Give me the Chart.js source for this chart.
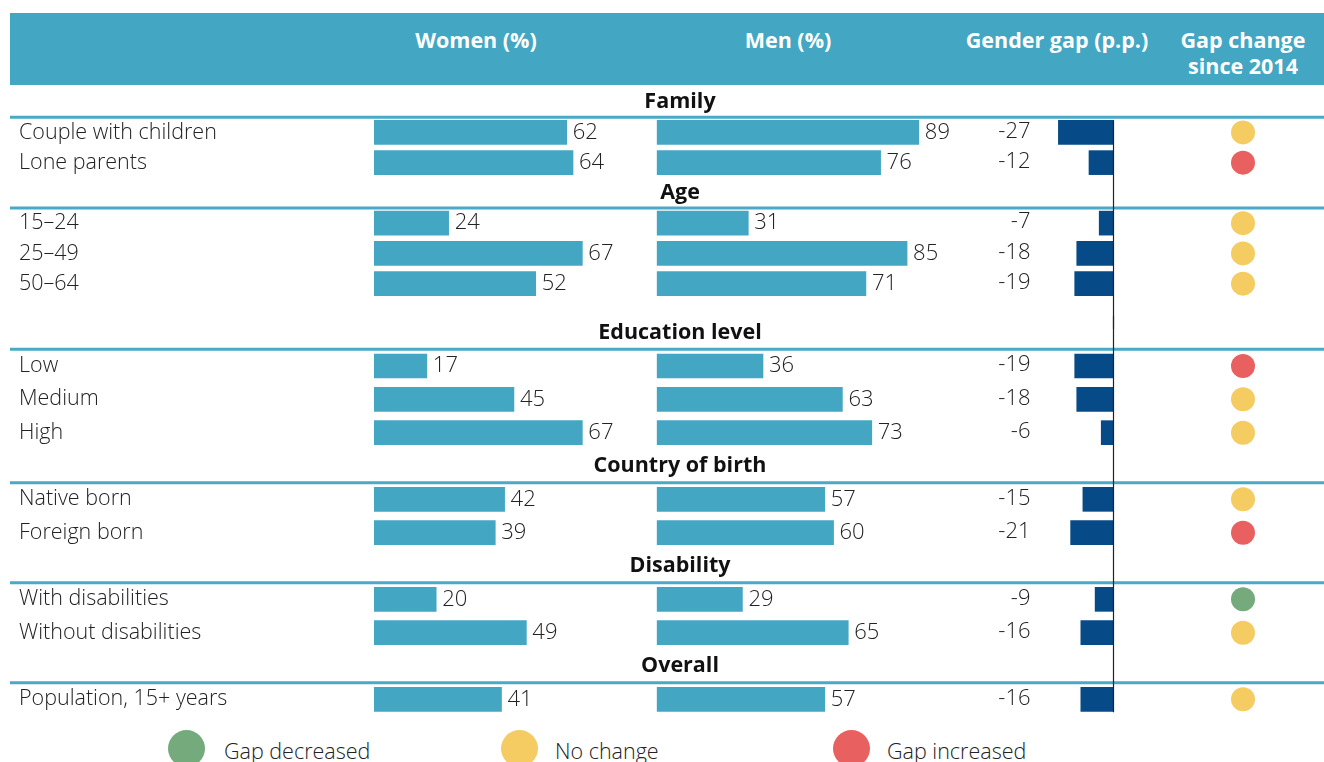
<!DOCTYPE html>
<html>
<head>
<meta charset="utf-8">
<script src="https://cdn.jsdelivr.net/npm/chart.js@4/dist/chart.umd.min.js"></script>
<style>
  body { margin: 0; background: #fff; font-family: "Open Sans", sans-serif; }
  #page { position: relative; width: 1324px; height: 762px; overflow: hidden; }
  .band { position: absolute; left: 10px; top: 13px; width: 1314px; height: 72px; background: #43a7c4; }
  .colhead { position: absolute; color: #fff; font-weight: 700; font-size: 21.5px; line-height: 26px; text-align: center; white-space: nowrap; transform: translateX(-50%); }
  .wrap { position: absolute; left: 10px; width: 1314px; }
  .lg-dot { position: absolute; width: 37px; height: 37px; border-radius: 50%; }
  .lg-txt { position: absolute; font-size: 21.5px; font-weight: 300; color: #222; white-space: nowrap; }
</style>
</head>
<body>
<div id="page">
  <div class="band"></div>
  <div class="colhead" style="left:476px; top:27px;">Women (%)</div>
  <div class="colhead" style="left:788px; top:27px;">Men (%)</div>
  <div class="colhead" style="left:1057px; top:27px;">Gender gap (p.p.)</div>
  <div class="colhead" style="left:1243px; top:27px;">Gap change<br>since 2014</div>

  <div class="wrap" style="top:87px; height:242px;"><canvas id="topChart"></canvas></div>
  <div class="wrap" style="top:316px; height:400px;"><canvas id="bottomChart"></canvas></div>

  <div class="lg-dot" style="left:168px; top:730px; background:#74aa7c;"></div>
  <div class="lg-txt" style="left:224px; top:736px;">Gap decreased</div>
  <div class="lg-dot" style="left:501px; top:730px; background:#f5cc61;"></div>
  <div class="lg-txt" style="left:555px; top:736px;">No change</div>
  <div class="lg-dot" style="left:833px; top:730px; background:#e96060;"></div>
  <div class="lg-txt" style="left:887px; top:736px;">Gap increased</div>
</div>
<script>
const groups = ['Family', 'Age', 'Education level', 'Country of birth', 'Disability', 'Overall'];
const rowLabels = ['Couple with children', 'Lone parents', '15–24', '25–49', '50–64', 'Low', 'Medium', 'High',
  'Native born', 'Foreign born', 'With disabilities', 'Without disabilities', 'Population, 15+ years'];
const rowGroup = [0, 0, 1, 1, 1, 2, 2, 2, 3, 3, 4, 4, 5];
const women = [62, 64, 24, 67, 52, 17, 45, 67, 42, 39, 20, 49, 41];
const men = [89, 76, 31, 85, 71, 36, 63, 73, 57, 60, 29, 65, 57];
const gap = [-27, -12, -7, -18, -19, -19, -18, -6, -15, -21, -9, -16, -16];
const gapChange = ['same', 'up', 'same', 'same', 'same', 'up', 'same', 'same', 'same', 'up', 'down', 'same', 'same'];

const changeColor = { down: '#74aa7c', same: '#f5cc61', up: '#e96060' };
const barBlue = '#43a7c4';
const gapBlue = '#064a87';
const valueFont = '300 22px "Open Sans"';
const boldFont = '700 21.5px "Open Sans"';

// rows for one chart: group headers followed by their rows
function buildRows(groupIdx, spacer) {
  const rows = [];
  groupIdx.forEach(g => {
    rows.push({ type: 'head', label: groups[g] });
    rowLabels.forEach((l, i) => {
      if (rowGroup[i] === g) rows.push({ type: 'row', label: l, i: i });
    });
  });
  if (spacer) rows.push({ type: 'blank', label: ' ' });
  return rows;
}

function makeChart(id, rows, isTop) {
  const labels = rows.map(r => r.label);
  const pick = arr => rows.map(r => r.type === 'row' ? arr[r.i] : null);
  const dots = rows.filter(r => r.type === 'row').map(r => ({ x: 0, y: r.label }));
  const dotColors = rows.filter(r => r.type === 'row').map(r => changeColor[gapChange[r.i]]);

  const tablePlugin = {
    id: 'tableText',
    afterDatasetsDraw(chart) {
      const { ctx, scales } = chart;
      const y = scales.y;
      const w = chart.width;
      const zeroX = Math.round(scales.xg.getPixelForValue(0)) + 0.5;
      ctx.save();
      // group headers and separators
      rows.forEach((r, k) => {
        if (r.type !== 'head') return;
        const yc = y.getPixelForValue(k);
        const yn = y.getPixelForValue(k + 1);
        ctx.font = boldFont;
        ctx.fillStyle = '#111';
        ctx.textAlign = 'center';
        ctx.textBaseline = 'middle';
        ctx.fillText(r.label, 670, yc);
        ctx.strokeStyle = '#4aa9c6';
        ctx.lineWidth = 3;
        ctx.beginPath();
        ctx.moveTo(0, (yc + yn) / 2);
        ctx.lineTo(w, (yc + yn) / 2);
        ctx.stroke();
      });
      // zero line of the gap column
      const firstSep = (y.getPixelForValue(0) + y.getPixelForValue(1)) / 2;
      const lastY = y.getPixelForValue(rows.length - 1);
      ctx.strokeStyle = '#222';
      ctx.lineWidth = 1.2;
      ctx.beginPath();
      ctx.moveTo(zeroX, isTop ? firstSep + 3 : 0);
      ctx.lineTo(zeroX, isTop ? chart.height : lastY + 13);
      ctx.stroke();
      // value labels
      ctx.font = valueFont;
      ctx.fillStyle = '#222';
      ctx.textBaseline = 'middle';
      [0, 1].forEach(d => {
        chart.getDatasetMeta(d).data.forEach((bar, k) => {
          if (rows[k].type !== 'row') return;
          const v = chart.data.datasets[d].data[k];
          ctx.textAlign = 'left';
          ctx.fillText(String(v), bar.x + 6, bar.y);
        });
      });
      chart.getDatasetMeta(2).data.forEach((bar, k) => {
        if (rows[k].type !== 'row') return;
        ctx.textAlign = 'right';
        ctx.fillText(String(chart.data.datasets[2].data[k]), zeroX - 83, bar.y - 1);
      });
      ctx.restore();
    }
  };

  return new Chart(document.getElementById(id), {
    type: 'bar',
    data: {
      labels: labels,
      datasets: [
        { label: 'Women (%)', data: pick(women), xAxisID: 'xw', backgroundColor: barBlue, barThickness: 24, grouped: false },
        { label: 'Men (%)', data: pick(men), xAxisID: 'xm', backgroundColor: barBlue, barThickness: 24, grouped: false },
        { label: 'Gender gap (p.p.)', data: pick(gap), xAxisID: 'xg', backgroundColor: gapBlue, barThickness: 24, grouped: false },
        { type: 'scatter', label: 'Gap change since 2014', data: dots, xAxisID: 'xc', yAxisID: 'y',
          pointRadius: 12, pointHoverRadius: 12, pointBackgroundColor: dotColors, pointBorderWidth: 0 }
      ]
    },
    options: {
      indexAxis: 'y',
      responsive: true,
      maintainAspectRatio: false,
      animation: false,
      layout: { autoPadding: false, padding: { left: 9, right: 0, top: 0, bottom: 0 } },
      plugins: { legend: { display: false }, tooltip: { enabled: false } },
      scales: {
        y: {
          type: 'category',
          offset: true,
          grid: { display: false },
          border: { display: false },
          ticks: {
            autoSkip: false,
            crossAlign: 'far',
            color: '#222',
            font: { family: 'Open Sans', size: 21.5, weight: 300 },
            callback: (v, i) => rows[i].type === 'row' ? rows[i].label : ''
          },
          afterFit(s) { s.width = 355; s.paddingTop = 0; s.paddingBottom = 0; }
        },
        xw: { type: 'linear', display: false, min: 0, max: 305.5 },
        xm: { type: 'linear', display: false, min: -96.3, max: 226.8 },
        xg: { type: 'linear', display: false, min: -362.5, max: 103.2 },
        xc: { type: 'linear', display: false, min: -869, max: 81 }
      }
    },
    plugins: [tablePlugin]
  });
}

makeChart('topChart', buildRows([0, 1], true), true);
makeChart('bottomChart', buildRows([2, 3, 4, 5], false), false);
</script>
</body>
</html>
